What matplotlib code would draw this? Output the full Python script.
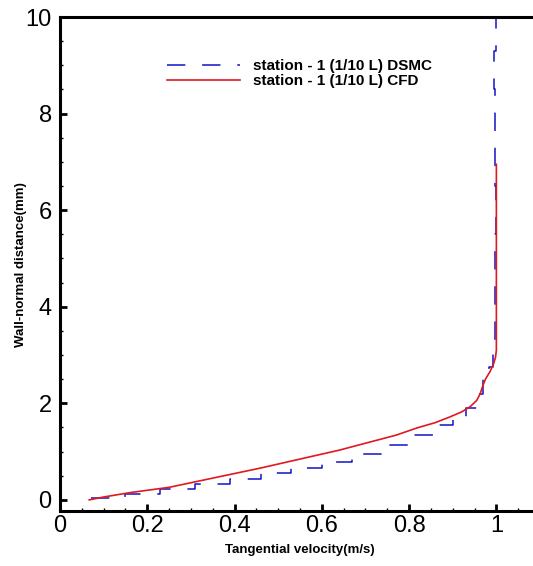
import numpy as np
import matplotlib
matplotlib.use("Agg")
import matplotlib.pyplot as plt
from matplotlib.ticker import MultipleLocator, FormatStrFormatter

plt.rcParams["font.family"] = ["Liberation Sans", "DejaVu Sans"]

# CFD profile: tangential velocity (m/s) vs wall-normal distance (mm)
cfd_u = [0.067, 0.10, 0.16, 0.25, 0.36, 0.46, 0.557, 0.64, 0.711, 0.77, 0.818,
         0.86, 0.894, 0.92, 0.94, 0.955, 0.963, 0.968, 0.975, 0.985, 0.993,
         0.998, 1.0, 1.0, 1.0]
cfd_y = [0.0, 0.06, 0.15, 0.26, 0.47, 0.66, 0.86, 1.03, 1.2, 1.34, 1.49,
         1.6, 1.72, 1.82, 1.93, 2.06, 2.2, 2.34, 2.5, 2.65, 2.8,
         2.95, 3.1, 4.0, 6.95]

# DSMC profile (cell-wise staircase)
dsmc_u = [0.07, 0.15, 0.23, 0.31, 0.39, 0.46, 0.53, 0.60, 0.67, 0.74, 0.80,
          0.865, 0.90, 0.93, 0.955, 0.97, 0.984, 0.993, 0.998, 0.997, 0.999,
          0.996, 0.998, 0.995, 0.999, 0.998]
dsmc_y = [0.03, 0.03, 0.12, 0.22, 0.32, 0.44, 0.55, 0.67, 0.79, 0.96, 1.13,
          1.35, 1.55, 1.67, 1.9, 2.2, 2.5, 2.75, 3.2, 4.5, 5.5,
          6.5, 7.5, 8.5, 9.3, 10.0]

BLUE = "#1212c4"
RED = "#e01820"

fig = plt.figure(figsize=(5.33, 5.66), dpi=100)
ax = fig.add_axes([60 / 533, 55 / 566, 480 / 533, 494 / 566])

ax.step(dsmc_u, dsmc_y, where="pre", color=BLUE, lw=1.1, dashes=(12, 11),
        label="station - 1 (1/10 L) DSMC")
ax.plot(cfd_u, cfd_y, color=RED, lw=1.2, label="station - 1 (1/10 L) CFD")

ax.set_xlim(0, 1.1)
ax.set_ylim(-0.23, 10)

ax.xaxis.set_major_locator(MultipleLocator(0.2))
ax.xaxis.set_minor_locator(MultipleLocator(0.05))
ax.yaxis.set_major_locator(MultipleLocator(2))
ax.yaxis.set_minor_locator(MultipleLocator(0.5))
ax.xaxis.set_major_formatter(FormatStrFormatter("%g"))
ax.yaxis.set_major_formatter(FormatStrFormatter("%g"))

ax.tick_params(which="major", direction="in", length=5, width=2, labelsize=17)
ax.tick_params(which="minor", direction="in", length=2.3, width=1)
ax.tick_params(axis="x", which="major", pad=3)
ax.tick_params(axis="y", which="major", pad=6)

for s in ["left", "bottom", "top"]:
    ax.spines[s].set_linewidth(2.2)
ax.spines["right"].set_visible(False)

ax.set_xlabel("Tangential velocity(m/s)", fontsize=9.5, fontweight="bold")
ax.set_ylabel("Wall-normal distance(mm)", fontsize=9.5, fontweight="bold")
ax.xaxis.set_label_coords(240 / 480, -33 / 494)
ax.yaxis.set_label_coords(-33 / 480, 0.498)

ax.legend(loc="upper left", bbox_to_anchor=(167 / 533, 1 - 59 / 566),
          bbox_transform=fig.transFigure, frameon=False, borderpad=0,
          borderaxespad=0, prop={"weight": "bold", "size": 11},
          handlelength=4.8, handletextpad=0.85, labelspacing=0.08)

fig.savefig("out.png", dpi=100)
